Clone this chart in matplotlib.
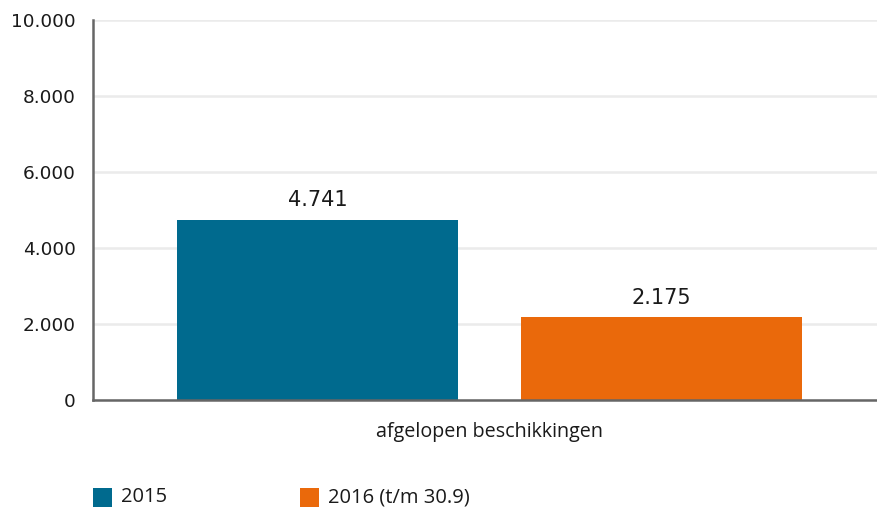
import matplotlib.pyplot as plt
from matplotlib.patches import Rectangle
import numpy as np

# data
series = ['2015', '2016 (t/m 30.9)']
values = [4741, 2175]
colors = ['#006a8e', '#ea690b']
category = 'afgelopen beschikkingen'
yticks = [0, 2000, 4000, 6000, 8000, 10000]
ytick_labels = ['0', '2.000', '4.000', '6.000', '8.000', '10.000']

W, H = 878, 509
fig = plt.figure(figsize=(W / 100, H / 100), dpi=100)
ax = fig.add_axes([93.5 / W, (H - 400) / H, (W - 93.5) / W, (400 - 19.5) / H])

x = np.arange(len(values))
bars = ax.bar(x, values, width=0.818, color=colors, zorder=2)

for rect, v in zip(bars, values):
    ax.annotate(f'{v:,}'.replace(',', '.'),
                (rect.get_x() + rect.get_width() / 2, rect.get_height()),
                xytext=(0, 7), textcoords='offset points',
                ha='center', va='bottom', fontsize=15, color='#1a1a1a',
                family='DejaVu Sans')

ax.set_xlim(-0.6536, 1.6317)
ax.set_ylim(0, 10000)
ax.set_yticks(yticks)
ax.set_yticklabels(ytick_labels, fontsize=13.3, color='#1a1a1a', family='DejaVu Sans')
ax.tick_params(axis='y', length=0, pad=13)
ax.set_xticks([])
ax.grid(axis='y', color='#ebebeb', linewidth=1.8, zorder=0)
ax.set_axisbelow(True)

for s in ['top', 'right']:
    ax.spines[s].set_visible(False)
for s in ['left', 'bottom']:
    ax.spines[s].set_color('#666666')
    ax.spines[s].set_linewidth(1.8)

# category label under the bars
ax.text(0.5, -0.085, category, transform=ax.get_xaxis_transform(),
        ha='center', va='center', fontsize=14.2, family='Open Sans',
        color='#1a1a1a')

# legend, drawn by hand to match the layout
legend_x = [93, 300]
for lx, name, c in zip(legend_x, series, colors):
    fig.patches.append(Rectangle((lx / W, (H - 507) / H), 19 / W, 19 / H,
                                 transform=fig.transFigure, facecolor=c,
                                 edgecolor='none'))
    fig.text((lx + 28) / W, (H - 497) / H, name, ha='left', va='center',
             fontsize=14.5, family='Open Sans', color='#1a1a1a')

fig.savefig('out.png', dpi=100)
